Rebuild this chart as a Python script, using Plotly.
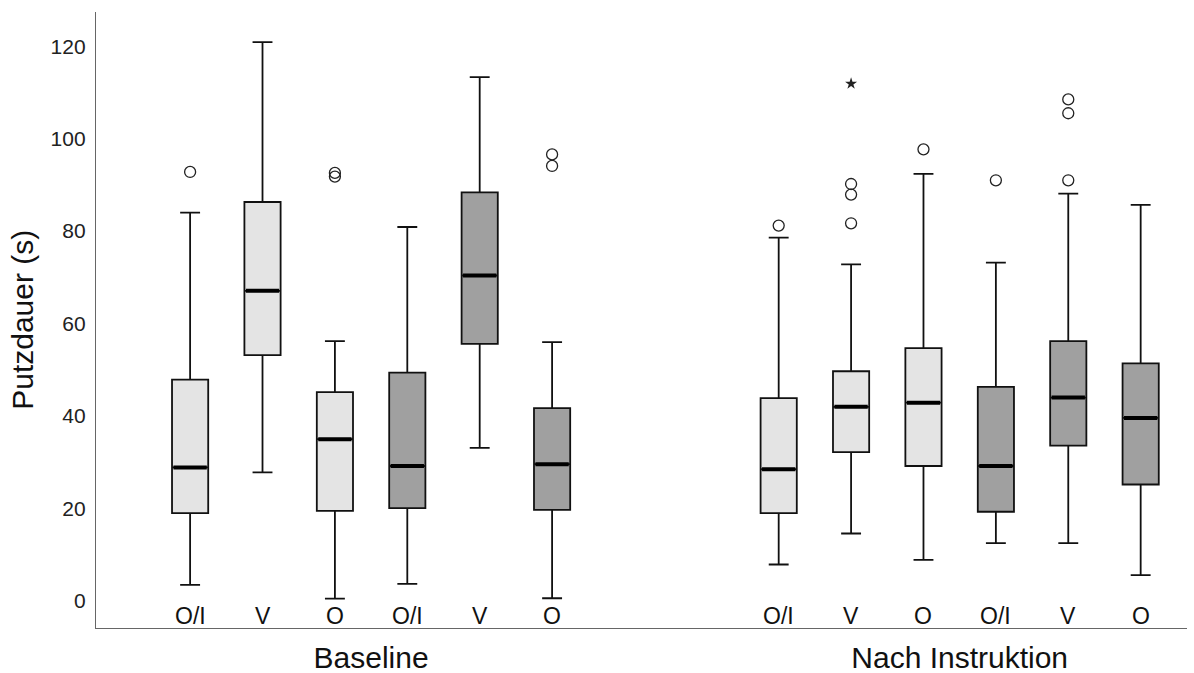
import plotly.graph_objects as go

groups = ["Baseline", "Nach Instruktion"]
categories = ["O/I", "V", "O", "O/I", "V", "O"]
shades = ["light", "light", "light", "dark", "dark", "dark"]

# per box: Baseline (6) then Nach Instruktion (6)
lower = [3.5, 27.8, 0.5, 3.7, 33.1, 0.6, 7.9, 14.6, 8.9, 12.5, 12.5, 5.6]
q1 = [19.0, 53.2, 19.5, 20.1, 55.6, 19.7, 19.0, 32.2, 29.2, 19.3, 33.6, 25.2]
median = [28.9, 67.1, 35.0, 29.2, 70.4, 29.6, 28.5, 42.0, 42.9, 29.2, 44.0, 39.6]
q3 = [47.9, 86.3, 45.2, 49.4, 88.4, 41.7, 43.9, 49.7, 54.7, 46.3, 56.2, 51.4]
upper = [84.0, 120.9, 56.2, 80.9, 113.3, 56.0, 78.6, 72.8, 92.4, 73.2, 88.1, 85.7]
outliers = [[92.8], [], [91.8, 92.6], [], [], [94.1, 96.6],
            [81.2], [81.7, 87.9, 90.2], [97.7], [91.0], [91.0, 105.5, 108.5], []]
extremes = [[], [], [], [], [], [], [], [111.9], [], [], [], []]

fill = {"light": "#e4e4e4", "dark": "#a0a0a0"}
group_offset = [0.0, 8.13]
half_w = 0.25
FONT = "Liberation Sans, Arial, sans-serif"

fig = go.Figure()
positions = []
for g, off in enumerate(group_offset):
    for i in range(6):
        positions.append(off + i)

for k, x in enumerate(positions):
    shade = shades[k % 6]
    fig.add_trace(go.Box(
        x=[x], q1=[q1[k]], median=[median[k]], q3=[q3[k]],
        lowerfence=[lower[k]], upperfence=[upper[k]],
        width=2 * half_w, whiskerwidth=0.55,
        fillcolor=fill[shade], line=dict(color="#111111", width=1.8),
        boxpoints=False, showlegend=False, hoverinfo="skip"))
    fig.add_trace(go.Scatter(
        x=[x - half_w + 0.02, x + half_w - 0.02], y=[median[k], median[k]],
        mode="lines", line=dict(color="black", width=4),
        showlegend=False, hoverinfo="skip"))
    if outliers[k]:
        fig.add_trace(go.Scatter(
            x=[x] * len(outliers[k]), y=outliers[k], mode="markers",
            marker=dict(symbol="circle-open", size=11, color="#222222",
                        line=dict(width=1.3)),
            showlegend=False, hoverinfo="skip"))
    if extremes[k]:
        fig.add_trace(go.Scatter(
            x=[x] * len(extremes[k]), y=extremes[k], mode="markers",
            marker=dict(symbol="star", size=9, color="#222222",
                        line=dict(width=0)),
            showlegend=False, hoverinfo="skip"))

# category labels inside the plot just above the axis line
for k, x in enumerate(positions):
    fig.add_annotation(x=x, y=-3.2, text=categories[k % 6], showarrow=False,
                       xref="x", yref="y", yanchor="middle",
                       font=dict(family=FONT, size=23, color="#111111"))

# y-axis title
fig.add_annotation(x=-0.068, y=0.5, xref="paper", yref="paper",
                   text="Putzdauer (s)", textangle=-90, showarrow=False,
                   xanchor="center", yanchor="middle",
                   font=dict(family=FONT, size=30, color="#111111"))

group_centers = [off + 2.5 for off in group_offset]

fig.update_layout(
    width=1194, height=673,
    margin=dict(l=96, r=7, t=12, b=45),
    plot_bgcolor="white", paper_bgcolor="white",
    font=dict(family=FONT, color="#111111"),
    xaxis=dict(range=[-1.30, 13.77], tickvals=group_centers, ticktext=groups,
               showgrid=False, zeroline=False, showline=True, linecolor="#666666",
               linewidth=1.3, ticks="", ticklabelstandoff=3, automargin=False,
               tickfont=dict(size=30, color="#111111")),
    yaxis=dict(range=[-5.84, 127.4], tickvals=[0, 20, 40, 60, 80, 100, 120],
               showgrid=False, zeroline=False, showline=True, linecolor="#666666",
               linewidth=1.3, ticks="", ticklabelstandoff=5, automargin=False,
               tickfont=dict(size=21, color="#222222")),
)

fig.write_html("out.html", config={"displayModeBar": False},
               post_script="document.body.style.margin='0';document.body.style.overflow='hidden';")
